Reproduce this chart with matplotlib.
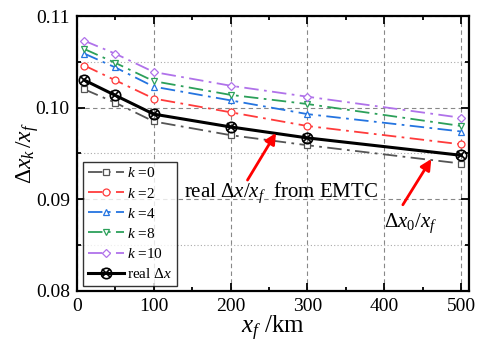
import matplotlib
matplotlib.use("Agg")
import matplotlib.pyplot as plt
from matplotlib.legend_handler import HandlerTuple
from matplotlib.ticker import MultipleLocator, FormatStrFormatter

# data
xf = [10, 50, 100, 200, 300, 500]
k0 = [0.1020, 0.10055, 0.0985, 0.0970, 0.0959, 0.0939]
k2 = [0.1046, 0.1030, 0.1010, 0.0995, 0.0980, 0.0960]
k4 = [0.1059, 0.1044, 0.1023, 0.1008, 0.0993, 0.0974]
k8 = [0.1064, 0.1049, 0.1029, 0.1014, 0.1004, 0.0980]
k10 = [0.1073, 0.1059, 0.1039, 0.1024, 0.1012, 0.0989]
real_dx = [0.1030, 0.10135, 0.0993, 0.0979, 0.0967, 0.0948]

series = [
    (k0, "#555555", "s", r"$k$ =0"),
    (k2, "#ff3b3b", "o", r"$k$ =2"),
    (k4, "#2474e0", "^", r"$k$ =4"),
    (k8, "#2ca05a", "v", r"$k$ =8"),
    (k10, "#b072ea", "D", r"$k$ =10"),
]

plt.rcParams["font.family"] = "Liberation Serif"
plt.rcParams["mathtext.fontset"] = "custom"
plt.rcParams["mathtext.rm"] = "Liberation Serif"
plt.rcParams["mathtext.it"] = "Liberation Serif:italic"

fig = plt.figure(figsize=(4.86, 3.43), dpi=100)
ax = fig.add_axes([0.158, 0.152, 0.807, 0.801])

handles = []
for vals, col, mk, lab in series:
    ms = 4.5 if mk == "D" else 5
    h, = ax.plot(xf, vals, color=col, ls=(0, (8, 3, 1.5, 3)), lw=1.3,
                 marker=mk, ms=ms, mfc="white", mec=col, mew=0.9, label=lab)
    handles.append(h)

r1, = ax.plot(xf, real_dx, color="black", lw=2.2, marker="o", ms=7.5,
              mfc="none", mec="black", mew=1.2)
r2, = ax.plot(xf, real_dx, ls="none", color="black", marker="x", ms=5.5, mew=1.2)
handles.append((r1, r2))

ax.set_xlim(0, 510)
ax.set_ylim(0.08, 0.11)
ax.xaxis.set_major_locator(MultipleLocator(100))
ax.xaxis.set_minor_locator(MultipleLocator(50))
ax.yaxis.set_major_locator(MultipleLocator(0.01))
ax.yaxis.set_minor_locator(MultipleLocator(0.005))
ax.yaxis.set_major_formatter(FormatStrFormatter("%.2f"))

ax.grid(True, which="major", ls=(0, (4, 3)), color="#888888", lw=0.8)
ax.grid(True, which="minor", axis="y", ls=(0, (1, 2)), color="#aaaaaa", lw=0.8)
ax.set_axisbelow(True)

ax.tick_params(which="both", direction="in", top=True, right=True, width=1.3)
ax.tick_params(which="major", length=6, labelsize=14, pad=5)
ax.tick_params(which="minor", length=3)
for s in ax.spines.values():
    s.set_linewidth(1.6)

ax.set_xlabel(r"$x_f$ /km", fontsize=18, labelpad=-1)
ax.set_ylabel(r"$\Delta x_k\,/x_f$", fontsize=17, labelpad=-4)

leg = ax.legend(handles, [s[3] for s in series] + [r"real $\Delta x$"],
                handler_map={tuple: HandlerTuple(ndivide=1)},
                loc="lower left", bbox_to_anchor=(0.008, 0.008), fontsize=11,
                frameon=True, fancybox=False, edgecolor="black",
                handlelength=2.4, handletextpad=0.2, labelspacing=0.4,
                borderpad=0.3, borderaxespad=0.2)
leg.get_frame().set_linewidth(1.0)

arrow = dict(arrowstyle="-|>", color="red", lw=2, mutation_scale=16,
             shrinkA=0, shrinkB=0)
ax.annotate("", xy=(259, 0.09724), xytext=(222, 0.0921), arrowprops=arrow)
ax.text(140, 0.0907, r"real $\Delta x/x_f$  from EMTC", fontsize=15,
        ha="left", va="center")
ax.annotate("", xy=(461, 0.0944), xytext=(424, 0.0894), arrowprops=arrow)
ax.text(400, 0.08743, r"$\Delta x_0/x_f$", fontsize=15, ha="left", va="center")

fig.savefig("out.png", dpi=100)
